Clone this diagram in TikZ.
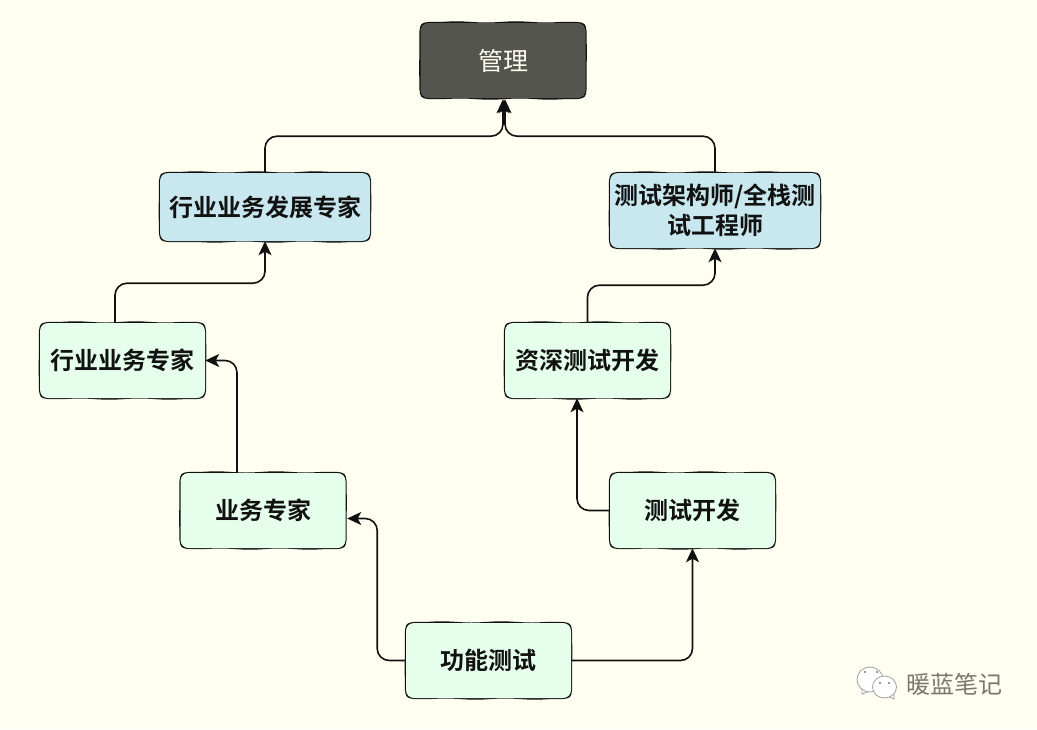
\documentclass[tikz,border=0pt]{standalone}
\usepackage{fontspec}
\setmainfont{Noto Sans CJK SC}
\newfontfamily\cjkb{Noto Sans CJK SC Bold}
\usetikzlibrary{arrows.meta,decorations.pathmorphing,calc}
\definecolor{bgc}{RGB}{254,255,240}
\definecolor{greenc}{RGB}{230,255,236}
\definecolor{bluec}{RGB}{201,231,238}
\definecolor{darkc}{RGB}{84,85,78}
\definecolor{inkc}{RGB}{17,17,17}
\definecolor{wmc}{RGB}{120,120,115}
\newcommand{\wobblebox}[1]{%
  \draw[draw=inkc,line width=1.8pt,line join=round,line cap=round]
    ($(#1.north west)+(9,0)$)
    decorate[wobA]{-- ($(#1.north east)+(-9,0)$)}
    .. controls ($(#1.north east)+(-1,1)$) .. ($(#1.north east)+(0,9)$)
    decorate[wobB]{-- ($(#1.south east)+(0,-9)$)}
    .. controls ($(#1.south east)+(-1,-1)$) .. ($(#1.south east)+(-9,0)$)
    decorate[wobA]{-- ($(#1.south west)+(9,0)$)}
    .. controls ($(#1.south west)+(1,-1)$) .. ($(#1.south west)+(0,-9)$)
    decorate[wobB]{-- ($(#1.north west)+(0,9)$)}
    .. controls ($(#1.north west)+(1,1)$) .. ($(#1.north west)+(9,0)$);
}
\tikzset{
  x=1pt,y=-1pt,
  wobA/.style={decoration={snake,segment length=60pt,amplitude=0.6pt,pre length=8pt,post length=8pt}},
  wobB/.style={decoration={snake,segment length=48pt,amplitude=0.35pt,pre length=6pt,post length=6pt}},
  boxbase/.style={rounded corners=8pt,minimum height=75pt,minimum width=165pt,inner sep=0pt,align=center,
     font=\cjkb\fontsize{24}{30}\selectfont,text=inkc,
     append after command={\pgfextra{\let\thisnode\tikzlastnode}\pgfextra{\wobblebox{\thisnode}}}},
  greenbox/.style={boxbase,fill=greenc},
  bluebox/.style={boxbase,fill=bluec,minimum width=210pt},
  darkbox/.style={boxbase,fill=darkc,text=bgc,font=\fontsize{25}{30}\selectfont},
  link/.style={draw=inkc,line width=1.6pt,rounded corners=12pt,-{Stealth[length=14pt,width=13pt,inset=3.5pt]}},
  wm/.style={draw=wmc!70,line width=0.8pt,fill=white},
  wmtext/.style={text=wmc,font=\fontsize{24}{28}\selectfont,inner sep=0pt}
}
\begin{document}
\begin{tikzpicture}
\useasboundingbox (0,0) rectangle (1037,729);
\fill[bgc] (0,0) rectangle (1037,729);

\node[darkbox]  (mgr)  at (503,60.5) {管理};
\node[bluebox,minimum height=68pt] (bizdev) at (265,207) {行业业务发展专家};
\node[bluebox]  (arch) at (715,210.5) {测试架构师/全栈测\\试工程师};
\node[greenbox] (bizexp) at (122.5,360.5) {行业业务专家};
\node[greenbox] (srdev) at (587.5,360.5) {资深测试开发};
\node[greenbox] (biz)  at (263,510.5) {业务专家};
\node[greenbox] (dev)  at (692.5,510.5) {测试开发};
\node[greenbox] (func) at (488.5,660.5) {功能测试};

\coordinate (mgrL) at ($(mgr.south)+(0,1)$);
\coordinate (mgrR) at ($(mgr.south)+(2,1)$);
\coordinate (bizexpTop) at ($(bizexp.north)+(-7.5,0)$);
\coordinate (bizTop) at ($(biz.north)+(-26,0)$);
\coordinate (bizE) at ($(biz.east)+(1.5,8)$);
\coordinate (srIn) at ($(srdev.south)+(-10.5,0)$);

\draw[link] (bizdev.north) |- ($(mgrL)+(0,37)$) -- (mgrL);
\draw[link] (arch.north) |- ($(mgrR)+(0,37)$) -- (mgrR);
\draw[link] (bizexpTop) |- ($(bizdev.south)+(0,42)$) -- (bizdev.south);
\draw[link] (srdev.north) |- ($(arch.south)+(0,37)$) -- (arch.south);
\draw[link] (bizTop) |- (bizexp.east);
\draw[link] (dev.west) -| (srIn);
\draw[link] (func.west) -| ($(bizE)+(30,0)$) -- (bizE);
\draw[link] (func.east) -| (dev.south);

% watermark
\path[wm] (862,689) -- (862,694) -- (870,691) -- cycle;
\path[wm] (870,679.5) circle[x radius=13,y radius=12.5];
\path[wm] (888,696) -- (894,699) -- (894,693) -- cycle;
\path[wm] (884.5,687) circle[x radius=12,y radius=11];
\fill[wmc] (865,672) circle(1.2) (877,672) circle(1.2) (880,683) circle(1.2) (889,683) circle(1.2);
\node[wmtext] (wmlabel) at (954.5,684) {暖蓝笔记};
\end{tikzpicture}
\end{document}
